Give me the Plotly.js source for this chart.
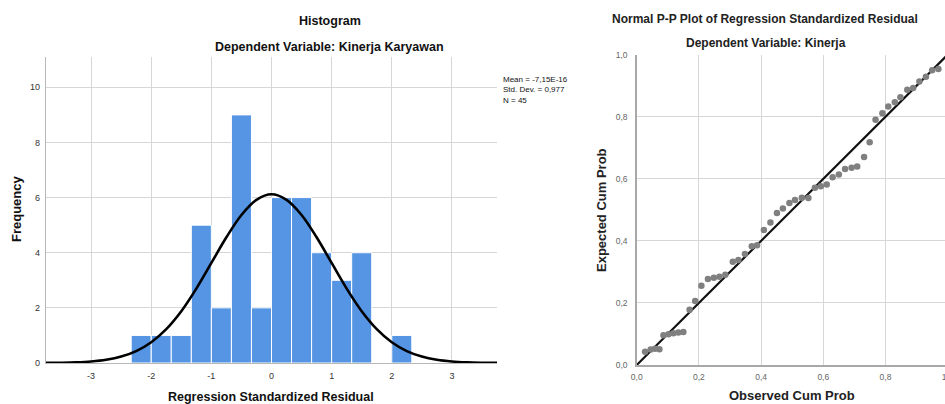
<!DOCTYPE html>
<html>
<head>
<meta charset="utf-8">
<script src="https://cdn.plot.ly/plotly-3.0.1.min.js"></script>
<style>
html,body{margin:0;padding:0;overflow:hidden;background:#fff;}
#chart{width:950px;height:404px;}
</style>
</head>
<body>
<div id="chart"></div>
<script>
// ---------- Histogram data ----------
const binCenters = [-2.1667,-1.8333,-1.5,-1.1667,-0.8333,-0.5,-0.1667,0.1667,0.5,0.8333,1.1667,1.5,1.8333,2.1667];
const binCounts  = [1,1,1,5,2,9,2,6,6,4,3,4,0,1];
const binWidth = 1/3;
const curveX = [-3.75,-3.5,-3.25,-3,-2.75,-2.5,-2.25,-2,-1.75,-1.5,-1.25,-1,-0.75,-0.5,-0.25,0,0.25,0.5,0.75,1,1.25,1.5,1.75,2,2.25,2.5,2.75,3,3.25,3.5,3.75];
const curveY = [0.004,0.010,0.024,0.055,0.117,0.232,0.431,0.754,1.23,1.88,2.70,3.63,4.56,5.37,5.92,6.12,5.92,5.37,4.56,3.63,2.70,1.88,1.23,0.754,0.431,0.232,0.117,0.055,0.024,0.010,0.004];
const histXTicks = [-3,-2,-1,0,1,2,3];
const histXTickText = ['-3','-2','-1','0','1','2','3'];
const histYTicks = [0,2,4,6,8,10];
const histYTickText = ['0','2','4','6','8','10'];
const statsText = ['Mean = -7,15E-16','Std. Dev. = 0,977','N = 45'];

// ---------- P-P plot data ----------
const ppObserved = [0.027,0.045,0.059,0.073,0.086,0.102,0.118,0.134,0.150,0.170,0.188,0.208,0.229,0.248,0.266,0.285,0.309,0.327,0.348,0.370,0.387,0.409,0.430,0.451,0.470,0.491,0.509,0.531,0.552,0.573,0.592,0.611,0.630,0.650,0.670,0.691,0.709,0.731,0.749,0.768,0.790,0.809,0.830,0.848,0.870,0.889,0.909,0.930,0.950,0.970];
const ppExpected = [0.043,0.050,0.052,0.051,0.096,0.099,0.102,0.105,0.106,0.178,0.206,0.255,0.277,0.281,0.284,0.291,0.333,0.338,0.358,0.383,0.386,0.435,0.459,0.490,0.504,0.522,0.532,0.539,0.538,0.571,0.576,0.582,0.605,0.614,0.632,0.636,0.640,0.670,0.718,0.790,0.811,0.833,0.847,0.863,0.887,0.893,0.914,0.929,0.950,0.954];
const diagX = [0,1];
const diagY = [0,1];
const ppTicks = [0,0.2,0.4,0.6,0.8,1.0];
const ppTickText = ['0,0','0,2','0,4','0,6','0,8','1,0'];

// ---------- layout helpers ----------
const W = 950, H = 404;
const px = v => v / W;
const py = v => 1 - v / H;
const FONT = 'Liberation Sans, Arial, sans-serif';

const traces = [
  {type:'bar', x:binCenters, y:binCounts, width:binWidth, xaxis:'x', yaxis:'y',
   marker:{color:'#5595e4', line:{color:'#ffffff', width:1}}, hoverinfo:'skip'},
  {type:'scatter', mode:'lines', x:curveX, y:curveY, xaxis:'x', yaxis:'y',
   line:{color:'#000000', width:2.6, shape:'spline'}, hoverinfo:'skip'},
  {type:'scatter', mode:'lines', x:diagX, y:diagY, xaxis:'x2', yaxis:'y2',
   line:{color:'#111111', width:2.2}, hoverinfo:'skip'},
  {type:'scatter', mode:'markers', x:ppObserved, y:ppExpected, xaxis:'x2', yaxis:'y2',
   marker:{color:'#808080', size:6.5}, hoverinfo:'skip'}
];

const axisCommon = {
  showgrid:true, gridcolor:'#d6d6d6', gridwidth:1, zeroline:false,
  showline:true, linecolor:'#b8b8b8', linewidth:1.2, ticks:'', fixedrange:true
};

const layout = {
  width:W, height:H, margin:{l:0,r:0,t:0,b:0}, showlegend:false,
  paper_bgcolor:'#ffffff', plot_bgcolor:'#ffffff', bargap:0,
  font:{family:FONT, color:'#222'},
  xaxis: Object.assign({}, axisCommon, {
    domain:[px(46), px(497)], range:[-3.75,3.75], anchor:'y',
    tickmode:'array', tickvals:histXTicks, ticktext:histXTickText,
    tickfont:{size:9, color:'#333', family:FONT}, ticklabelstandoff:4
  }),
  yaxis: Object.assign({}, axisCommon, {
    domain:[1-363/H, 1-57/H], range:[0,11.1], anchor:'x',
    tickmode:'array', tickvals:histYTicks, ticktext:histYTickText,
    tickfont:{size:9, color:'#333', family:FONT}, ticklabelstandoff:3
  }),
  xaxis2: Object.assign({}, axisCommon, {
    domain:[px(636.7), px(947.7)], range:[0,1], anchor:'y2',
    tickmode:'array', tickvals:ppTicks, ticktext:ppTickText,
    tickfont:{size:8.5, color:'#666', family:FONT}, ticklabelstandoff:3,
    ticklabeloverflow:'allow',
    linecolor:'#a8a8a8', linewidth:1.5
  }),
  yaxis2: Object.assign({}, axisCommon, {
    domain:[1-365/H, 1-54.7/H], range:[0,1], anchor:'x2',
    tickmode:'array', tickvals:ppTicks, ticktext:ppTickText,
    tickfont:{size:8.5, color:'#666', family:FONT}, ticklabelstandoff:6,
    linecolor:'#a8a8a8', linewidth:1.5
  }),
  annotations: [
    {text:'<b>Histogram</b>', xref:'paper', yref:'paper', x:px(330), y:py(21), showarrow:false,
     xanchor:'center', yanchor:'middle', font:{size:12.5, color:'#111', family:FONT}},
    {text:'<b>Dependent Variable: Kinerja Karyawan</b>', xref:'paper', yref:'paper', x:px(329), y:py(46.5), showarrow:false,
     xanchor:'center', yanchor:'middle', font:{size:12.5, color:'#111', family:FONT}},
    {text:'<b>Frequency</b>', xref:'paper', yref:'paper', x:px(16), y:py(209), showarrow:false, textangle:-90,
     xanchor:'center', yanchor:'middle', font:{size:13, color:'#111', family:FONT}},
    {text:'<b>Regression Standardized Residual</b>', xref:'paper', yref:'paper', x:px(271), y:py(397), showarrow:false,
     xanchor:'center', yanchor:'middle', font:{size:12.5, color:'#111', family:FONT}},
    {text:statsText.join('<br>'), xref:'paper', yref:'paper', x:px(501), y:py(73), showarrow:false, align:'left',
     xanchor:'left', yanchor:'top', font:{size:8, color:'#111', family:FONT}},
    {text:'<b>Normal P-P Plot of Regression Standardized Residual</b>', xref:'paper', yref:'paper', x:px(765), y:py(19), showarrow:false,
     xanchor:'center', yanchor:'middle', font:{size:12, color:'#222', family:FONT}},
    {text:'<b>Dependent Variable: Kinerja</b>', xref:'paper', yref:'paper', x:px(766), y:py(43), showarrow:false,
     xanchor:'center', yanchor:'middle', font:{size:12, color:'#222', family:FONT}},
    {text:'<b>Expected Cum Prob</b>', xref:'paper', yref:'paper', x:px(601), y:py(210), showarrow:false, textangle:-90,
     xanchor:'center', yanchor:'middle', font:{size:13, color:'#222', family:FONT}},
    {text:'<b>Observed Cum Prob</b>', xref:'paper', yref:'paper', x:px(792), y:py(395), showarrow:false,
     xanchor:'center', yanchor:'middle', font:{size:13, color:'#222', family:FONT}}
  ]
};

Plotly.newPlot('chart', traces, layout, {staticPlot:true, displayModeBar:false});
</script>
</body>
</html>
